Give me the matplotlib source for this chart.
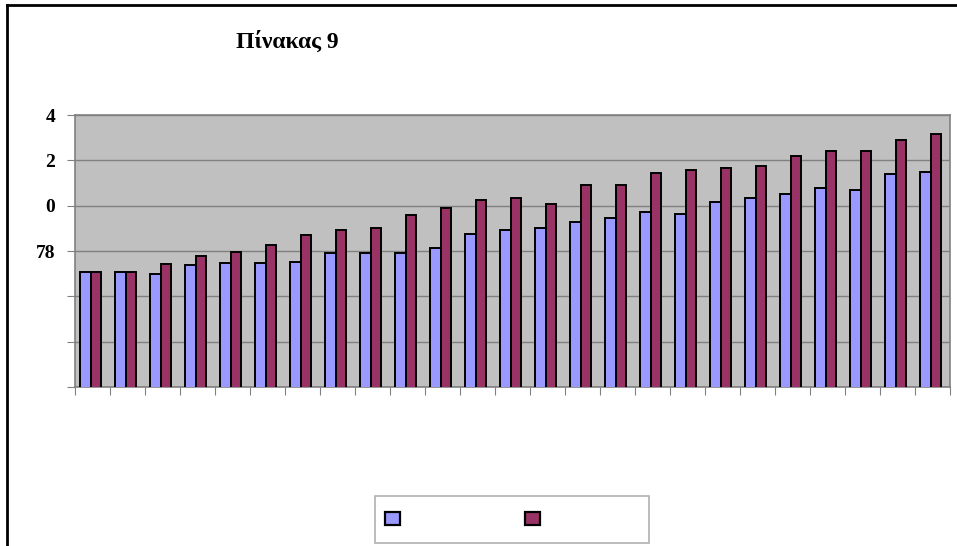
import numpy as np
import matplotlib
matplotlib.use("Agg")
import matplotlib.pyplot as plt
from matplotlib.patches import Patch, Rectangle
from matplotlib.lines import Line2D

# values (25 groups, two series)
series_a = [77.07, 77.07, 77.0, 77.4, 77.45, 77.45, 77.5, 77.9, 77.9, 77.9,
            78.15, 78.77, 78.94, 79.03, 79.3, 79.47, 79.74, 79.65, 80.18, 80.36,
            80.53, 80.8, 80.71, 81.41, 81.5]
series_b = [77.07, 77.07, 77.44, 77.8, 77.96, 78.25, 78.69, 78.94, 79.03, 79.57,
            79.91, 80.27, 80.36, 80.07, 80.89, 80.89, 81.43, 81.59, 81.68, 81.77,
            82.21, 82.39, 82.39, 82.91, 83.18]
y_ticks = [72, 74, 76, 78, 80, 82, 84]
# only the right-hand part of the labels is visible in the original
y_labels = ['', '', '', '78', '0', '2', '4']
title = 'Πίνακας 9'

col_a = '#9999ff'
col_b = '#993366'

fig = plt.figure(figsize=(9.57, 5.46), dpi=100)
ax = fig.add_axes([75 / 957, 1 - 387 / 546, 875 / 957, 272 / 546])
ax.set_facecolor('#c0c0c0')

x = np.arange(len(series_a))
w = 0.3
ax.bar(x - w / 2 - 0.05, series_a, w, color=col_a, edgecolor='black', linewidth=1.4, zorder=3)
ax.bar(x + w / 2 - 0.05, series_b, w, color=col_b, edgecolor='black', linewidth=1.4, zorder=3)

ax.set_xlim(-0.5, len(series_a) - 0.5)
ax.set_ylim(72, 84)
ax.set_yticks(y_ticks)
ax.set_yticklabels(y_labels, fontsize=14, fontweight='bold', family='Liberation Serif')
ax.set_xticks(np.arange(len(series_a) + 1) - 0.5)
ax.set_xticklabels([])
ax.tick_params(axis='y', direction='out', length=6, color='#808080', pad=8.4)
ax.tick_params(axis='x', direction='out', length=6, color='#808080')
ax.yaxis.grid(True, color='#808080', linewidth=1, zorder=0)
ax.set_axisbelow(True)
for s in ax.spines.values():
    s.set_color('#808080')
    s.set_linewidth(1.2)

fig.text(287 / 957, 1 - 42 / 546, title, ha='center', va='center', fontsize=17,
         fontweight='bold', family='Liberation Serif')

# legend: squares only, no visible series names
handles = [Patch(facecolor=col_a, edgecolor='black', linewidth=1.6),
           Patch(facecolor=col_b, edgecolor='black', linewidth=1.6)]
leg = fig.legend(handles, ['', ''], ncol=2, loc='upper left',
                 bbox_to_anchor=(385 / 957, 1 - 512 / 546),
                 handlelength=1.08, handleheight=1.08, handletextpad=0,
                 columnspacing=9.0, borderpad=0, borderaxespad=0, frameon=False)
fig.add_artist(Rectangle((375 / 957, 1 - 543 / 546), 274 / 957, 47 / 546,
                         transform=fig.transFigure, facecolor='none',
                         edgecolor='#b0b0b0', linewidth=1.2))

# outer chart frame (top and left edge visible in the original)
fig.add_artist(Line2D([7 / 957, 7 / 957], [0, 1 - 5 / 546], color='black', linewidth=2))
fig.add_artist(Line2D([7 / 957, 1], [1 - 5 / 546, 1 - 5 / 546], color='black', linewidth=2))

fig.savefig('out.png', dpi=100)
